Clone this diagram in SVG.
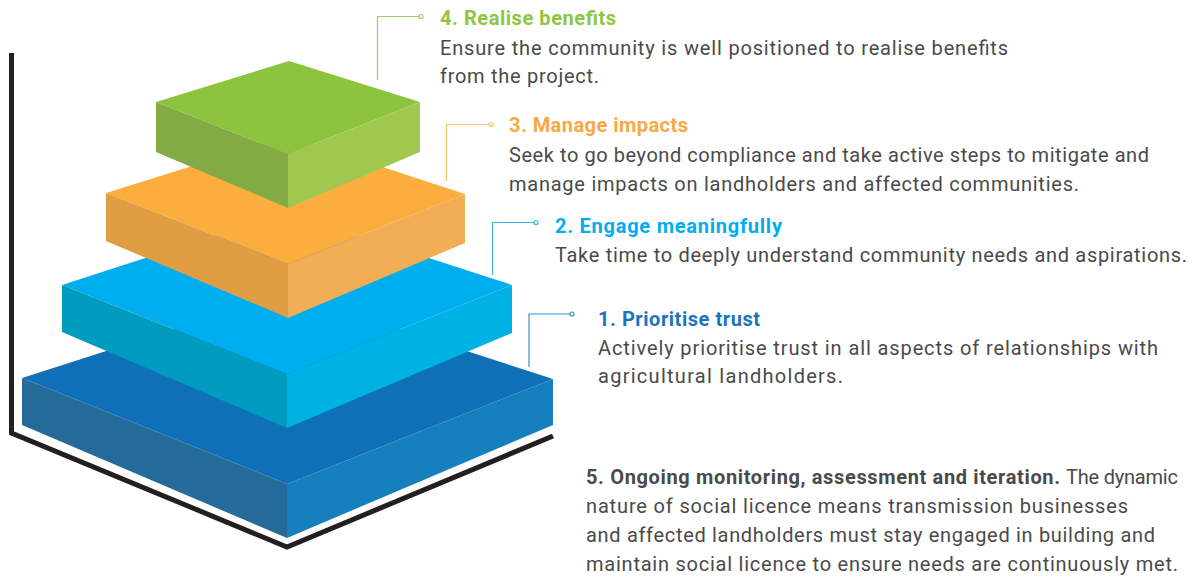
<svg xmlns="http://www.w3.org/2000/svg" width="1197" height="578" viewBox="0 0 1197 578">
  <style>
    text { font-family: Roboto, "Liberation Sans", Arial, sans-serif; font-size: 20px; }
    .body { fill: #4a4a4a; }
    .head { font-weight: bold; }
    .lead { fill: none; stroke-width: 1.2; }
    .dot { fill: #ffffff; stroke-width: 1.2; }
    .frame { fill: none; stroke: #231f20; stroke-width: 5; stroke-linejoin: miter; }
  </style>

  <rect width="1197" height="578" fill="#ffffff"/>

  <!-- base frame -->
  <polyline class="frame" points="11.5,53 11.5,433 287,547 553,436"/>

  <!-- level 1: prioritise trust (bottom slab) -->
  <g id="level-1">
    <polygon points="22,378 287,293 553,379 287,484" fill="#0f70b7"/>
    <polygon points="22,378 287,484 287,538 22,425" fill="#256b99"/>
    <polygon points="287,484 553,379 553,425 287,538" fill="#167fbe"/>
    <text class="head" x="598" y="326" fill="#1b75bc" textLength="162" lengthAdjust="spacing">1. Prioritise trust</text>
    <text class="body" x="598" y="355" textLength="560" lengthAdjust="spacing">Actively prioritise trust in all aspects of relationships with</text>
    <text class="body" x="598" y="383" textLength="245" lengthAdjust="spacing">agricultural landholders.</text>
  </g>

  <!-- level 2: engage meaningfully -->
  <g id="level-2">
    <polygon points="62,285 287,212 512,285 287,374" fill="#00aeef"/>
    <polygon points="62,285 287,374 287,428 62,332" fill="#009bbf"/>
    <polygon points="287,374 512,285 512,333 287,428" fill="#00b2e3"/>
    <text class="head" x="555" y="233" fill="#00aeef" textLength="227" lengthAdjust="spacing">2. Engage meaningfully</text>
    <text class="body" x="555" y="262" textLength="632" lengthAdjust="spacing">Take time to deeply understand community needs and aspirations.</text>
  </g>

  <!-- level 3: manage impacts -->
  <g id="level-3">
    <polygon points="106,193 288,136 465,194 288,264" fill="#fbad3e"/>
    <polygon points="106,193 288,264 288,318 106,241" fill="#e09e42"/>
    <polygon points="288,264 465,194 465,243 288,318" fill="#f2ae57"/>
    <text class="head" x="509" y="132" fill="#f9a845" textLength="179" lengthAdjust="spacing">3. Manage impacts</text>
    <text class="body" x="509" y="162" textLength="640" lengthAdjust="spacing">Seek to go beyond compliance and take active steps to mitigate and</text>
    <text class="body" x="509" y="191" textLength="570" lengthAdjust="spacing">manage impacts on landholders and affected communities.</text>
  </g>

  <!-- level 4: realise benefits (top slab) -->
  <g id="level-4">
    <polygon points="156,102 289,61 420,102 288,154" fill="#8cc43f"/>
    <polygon points="156,102 288,154 288,208 156,152" fill="#82ab46"/>
    <polygon points="288,154 420,102 420,152 288,208" fill="#a0c750"/>
    <text class="head" x="440" y="25" fill="#8dc63f" textLength="176" lengthAdjust="spacing">4. Realise benefits</text>
    <text class="body" x="440" y="55" textLength="568" lengthAdjust="spacing">Ensure the community is well positioned to realise benefits</text>
    <text class="body" x="440" y="83" textLength="159" lengthAdjust="spacing">from the project.</text>
  </g>

  <!-- level 5: ongoing monitoring note -->
  <g id="level-5">
    <text class="body head" x="586" y="484" fill="#444444" textLength="474" lengthAdjust="spacing">5. Ongoing monitoring, assessment and iteration.</text>
    <text class="body" x="1066" y="484" textLength="112" lengthAdjust="spacing">The dynamic</text>
    <text class="body" x="586" y="513" textLength="542" lengthAdjust="spacing">nature of social licence means transmission businesses</text>
    <text class="body" x="586" y="542" textLength="569" lengthAdjust="spacing">and affected landholders must stay engaged in building and</text>
    <text class="body" x="586" y="571" textLength="592" lengthAdjust="spacing">maintain social licence to ensure needs are continuously met.</text>
  </g>

  <!-- leader lines from slabs to labels -->
  <g id="connectors">
    <polyline class="lead" stroke="#9fcc6a" points="377.5,80 377.5,16.5 419,16.5"/>
    <circle class="dot" stroke="#9fcc6a" cx="421" cy="16.5" r="2"/>
    <polyline class="lead" stroke="#fbc06d" points="446.5,181 446.5,124.5 489,124.5"/>
    <circle class="dot" stroke="#fbc06d" cx="491" cy="124.5" r="2"/>
    <polyline class="lead" stroke="#33b8ee" points="492.5,275 492.5,222.5 534,222.5"/>
    <circle class="dot" stroke="#33b8ee" cx="536" cy="222.5" r="2"/>
    <polyline class="lead" stroke="#3d8fd0" points="529,367 529,314 570,314"/>
    <circle class="dot" stroke="#3d8fd0" cx="572" cy="314" r="2"/>
  </g>
</svg>
